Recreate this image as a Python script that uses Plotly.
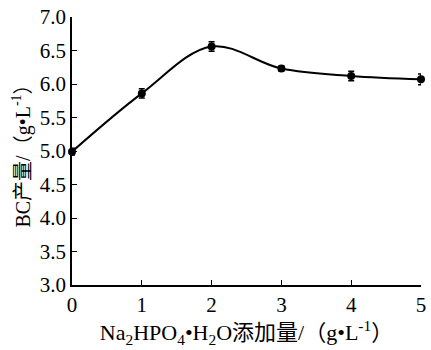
import plotly.graph_objects as go

# Na2HPO4·H2O dose (g/L) vs. BC yield (g/L)
dose = [0, 1, 2, 3, 4, 5]
bc_yield = [4.99, 5.86, 6.56, 6.23, 6.12, 6.07]
yield_err = [0.05, 0.07, 0.07, 0.04, 0.07, 0.08]
x_ticks = [0, 1, 2, 3, 4, 5]
y_ticks = [3.0, 3.5, 4.0, 4.5, 5.0, 5.5, 6.0, 6.5, 7.0]

FONT = "Liberation Serif, Times New Roman, Noto Sans CJK SC, serif"

fig = go.Figure()
fig.add_trace(go.Scatter(
    x=dose, y=bc_yield,
    mode="lines+markers",
    line=dict(color="black", width=2, shape="spline", smoothing=1.0),
    marker=dict(color="black", size=8, symbol="circle"),
    error_y=dict(type="data", array=yield_err, visible=True,
                 color="black", thickness=1.5, width=3),
    cliponaxis=False,
    showlegend=False,
))

fig.update_layout(
    width=431, height=350,
    margin=dict(l=72, r=5, t=10, b=65),
    paper_bgcolor="white", plot_bgcolor="white",
    font=dict(family=FONT, color="black", size=21),
    xaxis=dict(
        range=[0, 5], tickvals=x_ticks, ticktext=[str(v) for v in x_ticks],
        showline=True, linecolor="black", linewidth=1.5,
        ticks="inside", ticklen=5, tickwidth=1, tickcolor="black",
        showgrid=False, zeroline=False, ticklabeloverflow="allow",
        tickfont=dict(size=21, family=FONT),
        title=dict(text="Na<sub>2</sub>HPO<sub>4</sub>•H<sub>2</sub>O添加量/（g•L<sup>-1</sup>）",
                   font=dict(size=22, family=FONT), standoff=7),
    ),
    yaxis=dict(
        range=[3, 7], tickvals=y_ticks, ticktext=[f"{v:.1f}" for v in y_ticks],
        showline=True, linecolor="black", linewidth=1.5,
        ticks="inside", ticklen=5, tickwidth=1, tickcolor="black",
        showgrid=False, zeroline=False, ticklabeloverflow="allow",
        tickfont=dict(size=21, family=FONT),
        title=dict(text="BC产量/（g•L<sup>-1</sup>）",
                   font=dict(size=20, family=FONT), standoff=4),
    ),
)

fig.write_html("out.html")
